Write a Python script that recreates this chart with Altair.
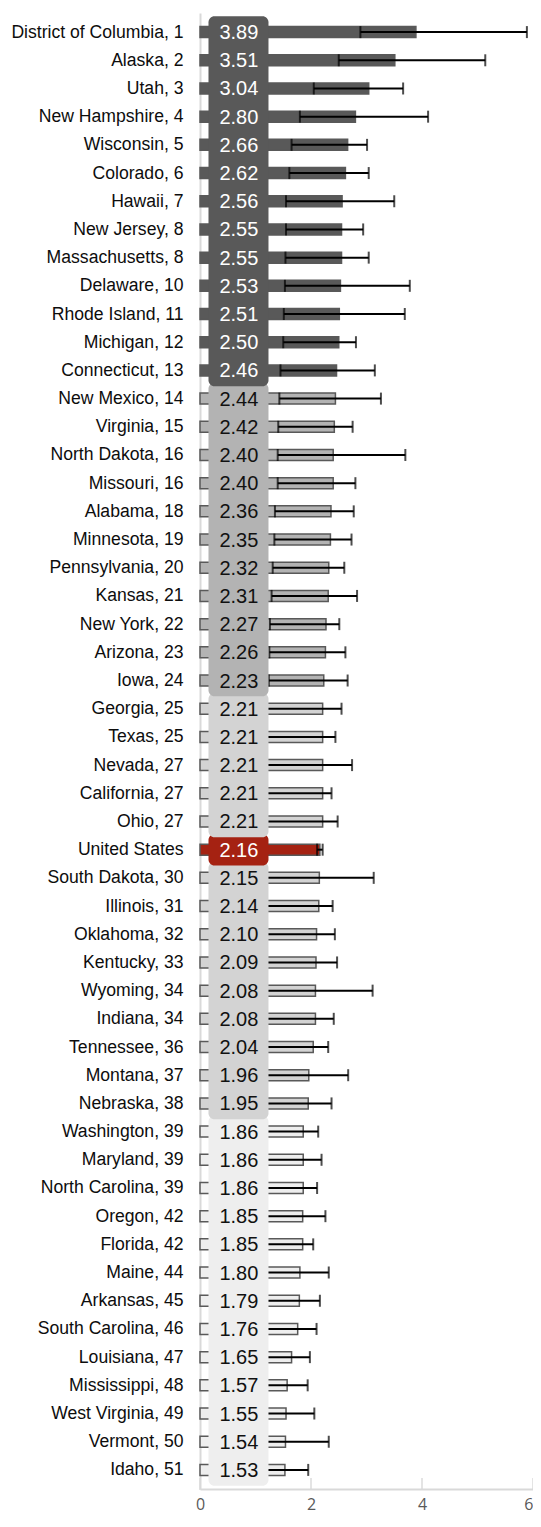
import json
import altair as alt
import pandas as pd

labels = ["District of Columbia, 1", "Alaska, 2", "Utah, 3", "New Hampshire, 4", "Wisconsin, 5",
          "Colorado, 6", "Hawaii, 7", "New Jersey, 8", "Massachusetts, 8", "Delaware, 10",
          "Rhode Island, 11", "Michigan, 12", "Connecticut, 13", "New Mexico, 14", "Virginia, 15",
          "North Dakota, 16", "Missouri, 16", "Alabama, 18", "Minnesota, 19", "Pennsylvania, 20",
          "Kansas, 21", "New York, 22", "Arizona, 23", "Iowa, 24", "Georgia, 25", "Texas, 25",
          "Nevada, 27", "California, 27", "Ohio, 27", "United States", "South Dakota, 30",
          "Illinois, 31", "Oklahoma, 32", "Kentucky, 33", "Wyoming, 34", "Indiana, 34",
          "Tennessee, 36", "Montana, 37", "Nebraska, 38", "Washington, 39", "Maryland, 39",
          "North Carolina, 39", "Oregon, 42", "Florida, 42", "Maine, 44", "Arkansas, 45",
          "South Carolina, 46", "Louisiana, 47", "Mississippi, 48", "West Virginia, 49",
          "Vermont, 50", "Idaho, 51"]

values = [3.89, 3.51, 3.04, 2.80, 2.66, 2.62, 2.56, 2.55, 2.55, 2.53, 2.51, 2.50, 2.46,
          2.44, 2.42, 2.40, 2.40, 2.36, 2.35, 2.32, 2.31, 2.27, 2.26, 2.23,
          2.21, 2.21, 2.21, 2.21, 2.21, 2.16, 2.15, 2.14, 2.10, 2.09, 2.08, 2.08, 2.04, 1.96, 1.95,
          1.86, 1.86, 1.86, 1.85, 1.85, 1.80, 1.79, 1.76, 1.65, 1.57, 1.55, 1.54, 1.53]

lower = [2.89, 2.50, 2.05, 1.80, 1.65, 1.61, 1.55, 1.55, 1.54, 1.53, 1.51, 1.50, 1.45,
         1.43, 1.41, 1.40, 1.40, 1.35, 1.34, 1.31, 1.29, 1.26, 1.25, 1.24,
         1.18, 1.20, 1.15, 1.19, 1.17, 2.11, 1.10, 1.15, 1.12, 1.10, 1.05, 1.10, 1.08, 1.00, 1.05,
         1.00, 1.00, 1.02, 0.98, 1.05, 0.95, 0.98, 0.95, 0.90, 0.85, 0.80, 0.70, 0.80]

upper = [5.89, 5.14, 3.66, 4.11, 3.01, 3.04, 3.50, 2.94, 3.04, 3.78, 3.69, 2.81, 3.15,
         3.26, 2.75, 3.70, 2.80, 2.77, 2.73, 2.60, 2.83, 2.51, 2.62, 2.66,
         2.55, 2.44, 2.74, 2.37, 2.48, 2.21, 3.13, 2.39, 2.43, 2.47, 3.11, 2.41, 2.31, 2.67, 2.37,
         2.13, 2.19, 2.11, 2.26, 2.04, 2.32, 2.16, 2.10, 1.98, 1.94, 2.06, 2.32, 1.95]

tier = (["1"] * 13 + ["2"] * 11 + ["3"] * 5 + ["US"] + ["3"] * 9 + ["4"] * 13)

# background column segments: first row, last row, tier (drawn bottom-up)
seg_start = [39, 30, 29, 24, 13, 0]
seg_end = [51, 38, 29, 28, 23, 12]
seg_tier = ["4", "3", "US", "3", "2", "1"]

x_ticks = [0, 2, 4, 6]

tier_domain = ["1", "2", "3", "4", "US"]
tier_colors = ["#595959", "#b3b3b3", "#d3d3d3", "#eeeeee", "#a52212"]

df = pd.DataFrame({"row": list(range(len(labels))), "label": labels, "value": values,
                   "lower": lower, "upper": upper, "tier": tier})
boxes = pd.DataFrame({"start": seg_start, "end": seg_end, "tier": seg_tier})
ticks_df = pd.DataFrame({"t": x_ticks})

label_expr = json.dumps(labels) + "[datum.value]"

xscale = alt.Scale(domain=[0, 6], nice=False, zero=True)
xaxis = alt.Axis(values=x_ticks, grid=False, title=None, domainColor="#d9d9d9",
                 domainWidth=2, ticks=False, labelFlush=False,
                 labelAlign={"condition": {"test": "datum.value == 6", "value": "right"},
                             "value": "center"},
                 labelFont="Open Sans", labelFontSize=16, labelColor="#595959",
                 labelPadding=7)
yscale = alt.Scale(domain=[-0.5, 51.5], reverse=True, nice=False, zero=False)
yaxis = alt.Axis(values=list(range(52)), labelExpr=label_expr, ticks=False, grid=False,
                 title=None, domainColor="#d9d9d9", domainWidth=2, labelFont="Liberation Sans",
                 labelFontSize=17.6, labelColor="#0d0d0d", labelPadding=17, labelOverlap=False)

fill_scale = alt.Scale(domain=tier_domain, range=tier_colors)

base = alt.Chart(df)

bars = base.mark_bar(orient="horizontal", size=11, stroke="#595959", strokeWidth=1.5).encode(
    x=alt.X("value:Q", scale=xscale, axis=xaxis),
    y=alt.Y("row:Q", scale=yscale, axis=yaxis),
    fill=alt.Fill("tier:N", scale=fill_scale, legend=None),
)

whisk = base.mark_rule(color="black", strokeWidth=2).encode(
    x=alt.X("lower:Q", scale=xscale, axis=xaxis),
    x2="upper:Q",
    y=alt.Y("row:Q", scale=yscale, axis=yaxis),
)

caps = base.transform_fold(["lower", "upper"], as_=["end", "pos"]).mark_tick(
    orient="vertical", color="black", thickness=2, size=12
).encode(
    x=alt.X("pos:Q", scale=xscale, axis=xaxis),
    y=alt.Y("row:Q", scale=yscale, axis=yaxis),
)

col = alt.Chart(boxes).transform_calculate(
    y0="datum.start - 0.56", y1="datum.end + 0.56"
).mark_rect(cornerRadius=6).encode(
    x=alt.X(datum=0.153, scale=xscale, axis=xaxis),
    x2=alt.datum(1.234),
    y=alt.Y("y0:Q", scale=yscale, axis=yaxis),
    y2="y1:Q",
    fill=alt.Fill("tier:N", scale=fill_scale, legend=None),
)

txt = base.mark_text(font="Liberation Sans", fontSize=20, align="center",
                     baseline="middle", dy=1).encode(
    x=alt.X(datum=0.70, scale=xscale, axis=xaxis),
    y=alt.Y("row:Q", scale=yscale, axis=yaxis),
    text=alt.Text("value:Q", format=".2f"),
    color=alt.condition("datum.tier == '1' || datum.tier == 'US'",
                        alt.value("#ffffff"), alt.value("#111111")),
)

xtick_marks = alt.Chart(ticks_df).mark_tick(
    orient="vertical", color="#d9d9d9", thickness=2, size=12
).encode(
    x=alt.X("t:Q", scale=xscale, axis=xaxis),
    y=alt.Y(datum=51.5, scale=yscale, axis=yaxis),
)

chart = alt.layer(bars, whisk, caps, col, txt, xtick_marks).properties(
    width=333, height=1476,
    autosize=alt.AutoSizeParams(type="none"),
    padding={"left": 192, "top": 5, "right": 0, "bottom": 24},
).configure_view(stroke=None)

chart.save("out.html", embed_options={"renderer": "svg", "actions": False})
